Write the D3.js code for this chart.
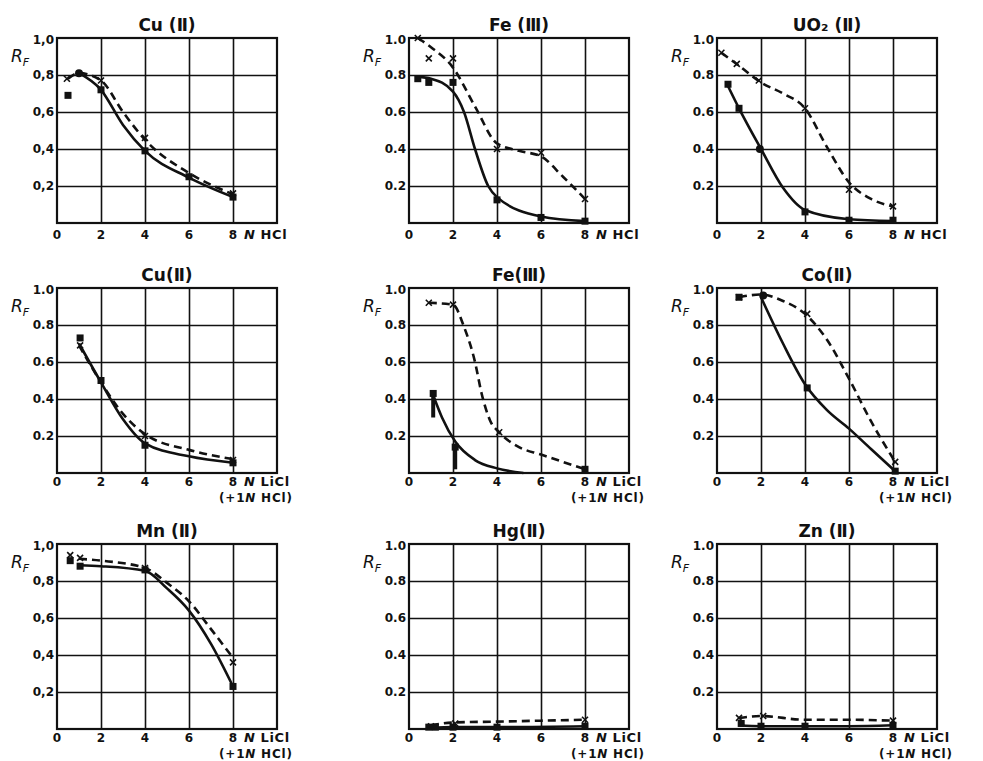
<!DOCTYPE html>
<html lang="en">
<head>
<meta charset="UTF-8">
<title>RF values</title>
<script src="https://d3js.org/d3.v7.min.js"></script>
<style>
  body { margin: 0; background: #fff; }
  svg text { fill: #111; }
</style>
</head>
<body>
<div id="chart"></div>
<script>
// panel titles, row by row
var titles = ["Cu (\u2161)", "Fe (\u2162)", "UO\u2082 (\u2161)",
              "Cu(\u2161)", "Fe(\u2162)", "Co(\u2161)",
              "Mn (\u2161)", "Hg(\u2161)", "Zn (\u2161)"];
// medium of each panel
var media = ["HCl", "HCl", "HCl", "LiCl", "LiCl", "LiCl", "LiCl", "LiCl", "LiCl"];
var xTicks = [0, 2, 4, 6, 8];
var yTicks = [0.2, 0.4, 0.6, 0.8, 1.0];
var yLabelsComma = ["0,2", "0,4", "0,6", "0,8", "1,0"];
var yLabelsDot = ["0.2", "0.4", "0.6", "0.8", "1.0"];
var useComma = [true, false, false, false, false, false, true, false, false];

// solid curves (filled square markers)
var solidCurves = [
  [[1, 0.81], [2, 0.72], [3, 0.53], [4, 0.39], [6, 0.245], [8, 0.14]],
  [[0.4, 0.79], [1, 0.78], [2, 0.71], [2.5, 0.6], [3, 0.4], [3.6, 0.2], [4, 0.14], [6, 0.035], [8, 0.01]],
  [[0.5, 0.74], [1, 0.62], [2, 0.4], [3, 0.19], [4, 0.07], [6, 0.02], [8, 0.01]],
  [[1, 0.7], [2, 0.49], [3, 0.29], [4, 0.16], [6, 0.09], [8, 0.055]],
  [[1.1, 0.42], [1.5, 0.3], [2.1, 0.17], [3, 0.07], [4, 0.025], [5.2, 0.0]],
  [[2, 0.95], [3, 0.7], [4, 0.48], [5, 0.34], [6, 0.24], [7, 0.13], [8.1, 0.01]],
  [[1, 0.885], [2, 0.88], [4, 0.855], [5, 0.76], [6, 0.64], [7, 0.46], [8, 0.23]],
  [[1, 0.005], [2, 0.01], [4, 0.01], [8, 0.015]],
  [[1, 0.02], [2, 0.015], [4, 0.015], [6, 0.015], [8, 0.02]]
];
// dashed curves (cross markers)
var dashedCurves = [
  [[0.5, 0.78], [1, 0.81], [2, 0.77], [3, 0.6], [4, 0.45], [6, 0.27], [8, 0.155]],
  [[0.4, 1.0], [1, 0.95], [2, 0.84], [3, 0.63], [4, 0.43], [5, 0.39], [6, 0.36], [7, 0.25], [8, 0.13]],
  [[0.2, 0.92], [1, 0.85], [2, 0.76], [3, 0.7], [4, 0.62], [5, 0.41], [6, 0.22], [7, 0.13], [8, 0.09]],
  [[1, 0.69], [2, 0.49], [3, 0.32], [4, 0.21], [6, 0.125], [8, 0.075]],
  [[0.9, 0.92], [2, 0.91], [2.5, 0.79], [3, 0.6], [3.3, 0.43], [3.7, 0.28], [4.1, 0.22], [5, 0.14], [6, 0.1], [8, 0.02]],
  [[1, 0.95], [2, 0.965], [3, 0.93], [4, 0.86], [5, 0.72], [6, 0.51], [7, 0.28], [8.1, 0.06]],
  [[1, 0.92], [2, 0.91], [4, 0.87], [5, 0.79], [6, 0.69], [7, 0.54], [7.9, 0.4]],
  [[1, 0.02], [2, 0.035], [4, 0.04], [6, 0.045], [8, 0.05]],
  [[1, 0.06], [2, 0.07], [4, 0.05], [6, 0.05], [8, 0.045]]
];
var squareMarks = [
  [[0.5, 0.69], [2, 0.72], [4, 0.39], [6, 0.25], [8, 0.14]],
  [[0.4, 0.78], [0.9, 0.76], [2, 0.76], [4, 0.125], [6, 0.03], [8, 0.01]],
  [[0.5, 0.75], [1, 0.62], [4, 0.06], [6, 0.015], [8, 0.015]],
  [[1.05, 0.73], [2, 0.5], [4, 0.15], [8, 0.055]],
  [[1.1, 0.43], [2.1, 0.14], [8, 0.02]],
  [[1, 0.95], [4.1, 0.46], [8.1, 0.01]],
  [[0.6, 0.91], [1.05, 0.88], [4, 0.86], [8, 0.23]],
  [[0.9, 0.01], [1.2, 0.01], [2, 0.01], [4, 0.01], [8, 0.015]],
  [[1.1, 0.03], [2, 0.015], [4, 0.015], [8, 0.02]]
];
var circleMarks = [
  [[1, 0.81]], [], [[1.95, 0.4]], [], [], [[2.1, 0.96]], [], [], []
];
var crossMarks = [
  [[0.45, 0.78], [2, 0.77], [4, 0.46], [8, 0.16]],
  [[0.4, 1.0], [0.9, 0.89], [2, 0.89], [4, 0.4], [6, 0.38], [8, 0.13]],
  [[0.2, 0.92], [0.9, 0.86], [1.9, 0.77], [4, 0.62], [6, 0.18], [8, 0.09]],
  [[1.05, 0.69], [4, 0.2], [8, 0.07]],
  [[0.9, 0.92], [2, 0.91], [4.1, 0.22]],
  [[1, 0.95], [4.1, 0.86], [8.1, 0.06]],
  [[0.6, 0.94], [1.05, 0.925], [4, 0.87], [8, 0.36]],
  [[1, 0.015], [2.1, 0.03], [8, 0.05]],
  [[1, 0.06], [2.1, 0.07], [8, 0.045]]
];
// short thick vertical strokes [panel, x, yFrom, yTo]
var thickBars = [[4, 1.1, 0.43, 0.3], [4, 2.1, 0.14, 0.02]];

// layout
var colLeft = [57, 409, 717],
    rowTop = [38, 288, 544],
    width = 220,
    height = 185;

var svg = d3.select("#chart")
  .append("svg")
    .attr("width", 983)
    .attr("height", 761);

var font = "'DejaVu Sans', sans-serif";

titles.forEach(function(title, i) {
  var row = Math.floor(i / 3);
  var g = svg.append("g")
    .attr("transform", "translate(" + colLeft[i % 3] + "," + rowTop[row] + ")");

  var x = d3.scaleLinear().domain([0, 10]).range([0, width]);
  var y = d3.scaleLinear().domain([0, 1]).range([height, 0]);

  // grid
  g.append("g")
    .call(d3.axisTop(x).tickValues([2, 4, 6, 8]).tickSize(-height).tickFormat(""))
    .call(function(a) { a.select(".domain").remove(); })
    .selectAll("line").attr("stroke", "#111").attr("stroke-width", 1.6);
  g.append("g")
    .call(d3.axisLeft(y).tickValues([0.2, 0.4, 0.6, 0.8]).tickSize(-width).tickFormat(""))
    .call(function(a) { a.select(".domain").remove(); })
    .selectAll("line").attr("stroke", "#111").attr("stroke-width", 1.6);

  g.append("rect")
    .attr("width", width).attr("height", height)
    .attr("fill", "none").attr("stroke", "#111").attr("stroke-width", 2.2);

  // y labels
  var ylab = useComma[i] ? yLabelsComma : yLabelsDot;
  g.append("g")
    .attr("font-family", font).attr("font-size", 12).attr("font-weight", "bold")
    .attr("text-anchor", "end")
    .selectAll("text").data(yTicks).enter().append("text")
      .attr("x", -3)
      .attr("y", function(d) { return y(d) + (d === 1 ? 6 : 4); })
      .text(function(d, k) { return ylab[k]; });

  // x labels
  var xBase = row === 0 ? 16 : 13;
  g.append("g")
    .attr("font-family", font).attr("font-size", 12).attr("font-weight", "bold")
    .attr("text-anchor", "middle")
    .selectAll("text").data(xTicks).enter().append("text")
      .attr("x", function(d) { return x(d); })
      .attr("y", height + xBase)
      .text(function(d) { return d; });

  var unit = g.append("text")
    .attr("x", x(8) + 11).attr("y", height + xBase)
    .attr("font-family", font).attr("font-size", 13).attr("font-weight", "bold")
    .attr("letter-spacing", 0.6);
  unit.append("tspan").attr("font-style", "italic").text("N");
  unit.append("tspan").text(" " + media[i]);
  if (media[i] === "LiCl") {
    var unit2 = g.append("text")
      .attr("x", x(8) - 14).attr("y", height + 29)
      .attr("font-family", font).attr("font-size", 12).attr("font-weight", "bold")
      .attr("letter-spacing", 0.8);
    unit2.append("tspan").text("(+1");
    unit2.append("tspan").attr("font-style", "italic").text("N");
    unit2.append("tspan").text(" HCl)");
  }

  // title
  g.append("text")
    .attr("x", width / 2).attr("y", -7)
    .attr("text-anchor", "middle")
    .attr("font-family", font).attr("font-size", 17).attr("font-weight", 600)
    .text(title);

  // R_F
  var rf = g.append("text")
    .attr("x", -46).attr("y", 24)
    .attr("font-family", font).attr("font-size", 17).attr("font-style", "italic");
  rf.append("tspan").text("R");
  rf.append("tspan").attr("font-size", 11).attr("dy", 4).text("F");

  var line = d3.line()
    .curve(d3.curveMonotoneX)
    .x(function(d) { return x(d[0]); })
    .y(function(d) { return y(d[1]); });

  g.append("path")
    .datum(dashedCurves[i])
    .attr("fill", "none").attr("stroke", "#111").attr("stroke-width", 2.6)
    .attr("stroke-dasharray", "8,5")
    .attr("d", line);

  g.append("path")
    .datum(solidCurves[i])
    .attr("fill", "none").attr("stroke", "#111").attr("stroke-width", 2.6)
    .attr("d", line);

  thickBars.filter(function(b) { return b[0] === i; }).forEach(function(b) {
    g.append("line")
      .attr("x1", x(b[1])).attr("x2", x(b[1]))
      .attr("y1", y(b[2])).attr("y2", y(b[3]))
      .attr("stroke", "#111").attr("stroke-width", 4);
  });

  g.selectAll(".sq").data(squareMarks[i]).enter().append("rect")
    .attr("x", function(d) { return x(d[0]) - 3.5; })
    .attr("y", function(d) { return y(d[1]) - 3.5; })
    .attr("width", 7).attr("height", 7)
    .attr("fill", "#111");

  g.selectAll(".ci").data(circleMarks[i]).enter().append("circle")
    .attr("cx", function(d) { return x(d[0]); })
    .attr("cy", function(d) { return y(d[1]); })
    .attr("r", 4)
    .attr("fill", "#111");

  g.selectAll(".cr").data(crossMarks[i]).enter().append("path")
    .attr("d", function(d) {
      var cx = x(d[0]), cy = y(d[1]), s = 3;
      return "M" + (cx - s) + "," + (cy - s) + "L" + (cx + s) + "," + (cy + s) +
             "M" + (cx - s) + "," + (cy + s) + "L" + (cx + s) + "," + (cy - s);
    })
    .attr("stroke", "#111").attr("stroke-width", 1.6).attr("fill", "none");
});
</script>
</body>
</html>
